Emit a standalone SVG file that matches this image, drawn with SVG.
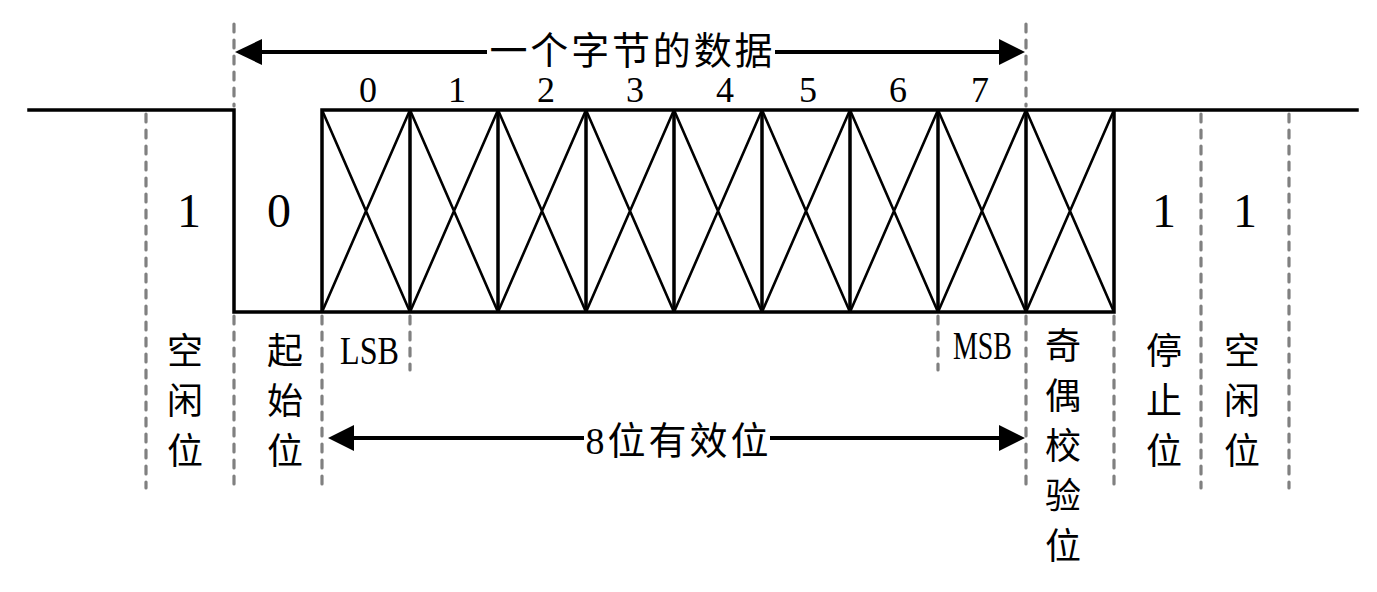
<svg xmlns="http://www.w3.org/2000/svg" width="1377" height="592" viewBox="0 0 1377 592">
<style>
.sig{fill:none;stroke:#000;stroke-width:3.5;stroke-linecap:square}
.diag{fill:none;stroke:#000;stroke-width:2.6}
.dash{fill:none;stroke:#808080;stroke-width:3.2;stroke-dasharray:8 8;stroke-linecap:round}
.arr{fill:none;stroke:#000;stroke-width:4}
.head{fill:#000}
.num{font-family:"Liberation Serif",serif;fill:#000}
.cjk{font-family:"Liberation Serif","Noto Sans CJK SC",serif;fill:#000;font-size:36px;text-anchor:middle}
</style>
<rect width="1377" height="592" fill="#fff"/>
<g id="guides">
<path class="dash" d="M146 114V488M234 24V106M234 316V488M322 316V488M410 316V370M938 316V370M1026 24V106M1026 316V488M1114 316V484M1201 114V488M1289 114V488"/>
</g>
<g id="signal">
<path class="sig" d="M29 110H234V312H1114M322 312V110H1357M410 110V312M498 110V312M586 110V312M674 110V312M762 110V312M850 110V312M938 110V312M1026 110V312M1114 110V312"/>
<path class="diag" d="M322 110L410 312M410 110L322 312M410 110L498 312M498 110L410 312M498 110L586 312M586 110L498 312M586 110L674 312M674 110L586 312M674 110L762 312M762 110L674 312M762 110L850 312M850 110L762 312M850 110L938 312M938 110L850 312M938 110L1026 312M1026 110L938 312M1026 110L1114 312M1114 110L1026 312"/>
</g>
<g id="connectors">
<path class="arr" d="M258 52H487M775 52H1002"/>
<polygon class="head" points="235,52 262,39 262,65"/>
<polygon class="head" points="1025,52 999,39 999,65"/>
<path class="arr" d="M350 438H584M770 438H1002"/>
<polygon class="head" points="328,438 354,425 354,451"/>
<polygon class="head" points="1025,438 999,425 999,451"/>
</g>
<g id="byte-label"><text class="cjk" x="631" y="64" style="font-size:38px" textLength="283" lengthAdjust="spacing">一个字节的数据</text></g>
<g id="valid-label"><text class="cjk" x="677" y="454" style="font-size:38px" textLength="183" lengthAdjust="spacing">8位有效位</text></g>
<g id="bit-numbers" class="num" font-size="36" text-anchor="middle">
<text x="368" y="102">0</text><text x="457" y="102">1</text><text x="546" y="102">2</text><text x="635" y="102">3</text><text x="725" y="102">4</text><text x="808" y="102">5</text><text x="898" y="102">6</text><text x="980" y="102">7</text>
</g>
<g id="levels" class="num" font-size="48" text-anchor="middle">
<text x="189" y="227">1</text><text x="279" y="227">0</text><text x="1164" y="227">1</text><text x="1245" y="227">1</text>
</g>
<g id="lsb"><text class="num" x="340" y="364" font-size="41" textLength="59" lengthAdjust="spacingAndGlyphs">LSB</text></g>
<g id="msb"><text class="num" x="953" y="359" font-size="40" textLength="59" lengthAdjust="spacingAndGlyphs">MSB</text></g>
<g id="idle-left"><text class="cjk" x="185" y="364">空</text><text class="cjk" x="185" y="414">闲</text><text class="cjk" x="185" y="464">位</text></g>
<g id="start-bit"><text class="cjk" x="285" y="364">起</text><text class="cjk" x="285" y="414">始</text><text class="cjk" x="285" y="464">位</text></g>
<g id="parity-bit"><text class="cjk" x="1063" y="359">奇</text><text class="cjk" x="1063" y="409">偶</text><text class="cjk" x="1063" y="459">校</text><text class="cjk" x="1063" y="509">验</text><text class="cjk" x="1063" y="559">位</text></g>
<g id="stop-bit"><text class="cjk" x="1164" y="364">停</text><text class="cjk" x="1164" y="414">止</text><text class="cjk" x="1164" y="464">位</text></g>
<g id="idle-right"><text class="cjk" x="1242" y="364">空</text><text class="cjk" x="1242" y="414">闲</text><text class="cjk" x="1242" y="464">位</text></g>
</svg>
